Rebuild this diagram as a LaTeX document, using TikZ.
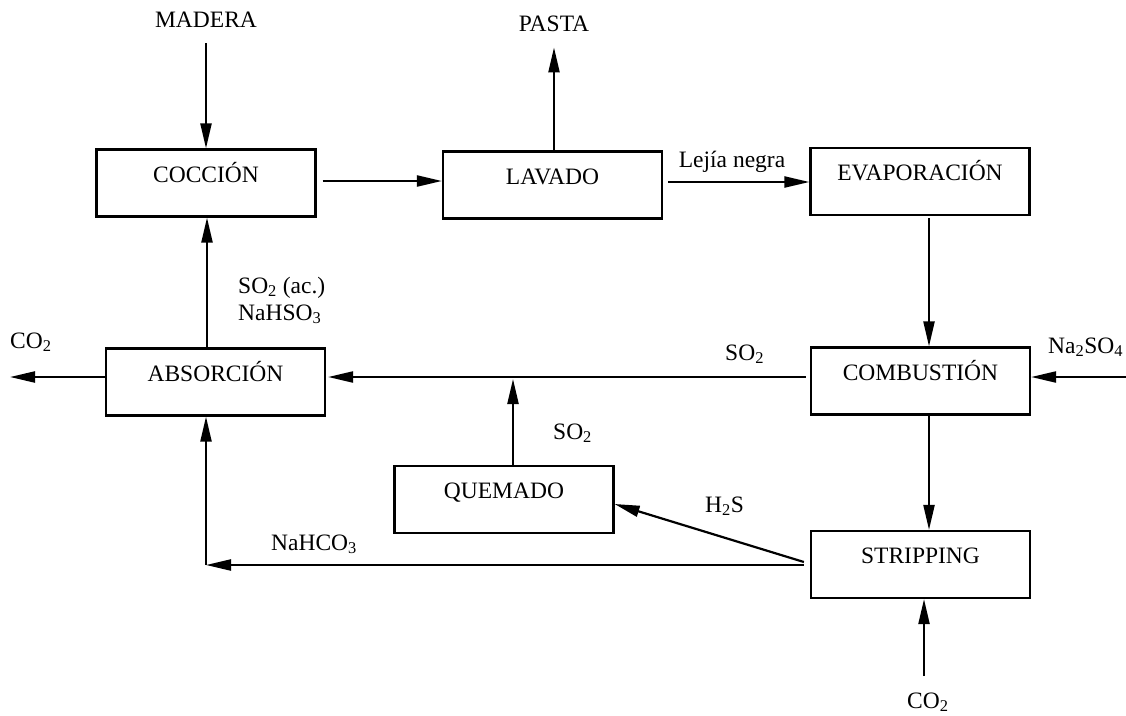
\documentclass[tikz,border=0pt]{standalone}
\usepackage{fontspec}
\setmainfont{Liberation Serif}
\usetikzlibrary{arrows.meta}
\begin{document}
\begin{tikzpicture}[x=1pt,y=-1pt,
  txt/.style={font=\fontsize{23.5}{28}\selectfont, inner sep=0pt},
  lbl/.style={txt, anchor=base west},
  box/.style={txt, draw, line width=2.2pt, minimum width=219pt, minimum height=67pt,
    text height=16pt, text depth=18pt},
  arr/.style={line width=2.2pt, -{Triangle[length=25pt,width=11pt]}}]
\useasboundingbox (0,0) rectangle (1126,715);
% boxes
\node[box] (coc) at (206,183) {COCCIÓN};
\node[box] (lav) at (552.5,185) {LAVADO};
\node[box] (eva) at (920,181.5) {EVAPORACIÓN};
\node[box] (com) at (920.5,381) {COMBUSTIÓN};
\node[box] (str) at (920.5,564.5) {STRIPPING};
\node[box] (abs) at (215.5,382) {ABSORCIÓN};
\node[box] (que) at (504,499.5) {QUEMADO};
% labels
\node[txt, anchor=base] (madera) at (206,27) {MADERA};
\node[txt, anchor=base] (pasta) at (554,31) {PASTA};
\node[txt, anchor=base] (lejia) at (732,167) {Lejía negra};
\node[lbl] (so2ac) at (238,293) {SO\textsubscript{2} (ac.)};
\node[lbl] (nahso3) at (238,320) {NaHSO\textsubscript{3}};
\node[lbl] (co2l) at (10,348) {CO\textsubscript{2}};
\node[lbl] (so2t) at (725,360) {SO\textsubscript{2}};
\node[lbl] (na2so4) at (1048,353) {Na\textsubscript{2}SO\textsubscript{4}};
\node[lbl] (so2m) at (553,439) {SO\textsubscript{2}};
\node[lbl] (h2s) at (705,512) {H\textsubscript{2}S};
\node[lbl] (nahco3) at (271,550) {NaHCO\textsubscript{3}};
\node[lbl] (co2b) at (907,708) {CO\textsubscript{2}};
% free ends
\coordinate (co2end) at (10,377);
\coordinate (naend) at (1126,377);
\coordinate (j1) at (513,379);
\coordinate (j2) at (206,565);
\coordinate (c2) at (924,676);
% connectors
\draw[arr, shorten <=16pt] (madera.south) -- (coc.north);
\draw[arr, shorten <=6pt] ([yshift=2pt]coc.east) -- ([yshift=2pt]coc.east -| lav.west);
\draw[arr, shorten >=16pt] (lav.north -| pasta) -- (pasta.south);
\draw[arr, shorten <=5pt] ([yshift=3pt]lav.east) -- ([yshift=3pt]lav.east -| eva.west);
\draw[arr, shorten <=2pt] ([xshift=9pt]eva.south) -- ([xshift=9pt]eva.south |- com.north);
\draw[arr, shorten <=4pt, shorten >=2pt] ([yshift=4pt]com.west) -- ([yshift=4pt]com.west -| abs.east);
\draw[arr] (naend) -- (naend -| com.east);
\draw[arr] ([yshift=5pt]abs.west) -- (co2end);
\draw[arr] ([xshift=-8.5pt]abs.north) -- ([xshift=-8.5pt]abs.north |- coc.south);
\draw[arr] ([xshift=9pt]que.north) -- (j1);
\draw[arr] ([xshift=-6pt,yshift=2.5pt]str.west) -- ([yshift=-4.5pt]que.east);
\draw[arr] ([xshift=-6pt,yshift=-0.5pt]str.west) -- (j2);
\draw[arr] (j2) -- ([xshift=-9.5pt]abs.south);
\draw[arr] ([xshift=8.5pt]com.south) -- ([xshift=8.5pt]com.south |- str.north);
\draw[arr] (c2) -- (c2 |- str.south);
\end{tikzpicture}
\end{document}
